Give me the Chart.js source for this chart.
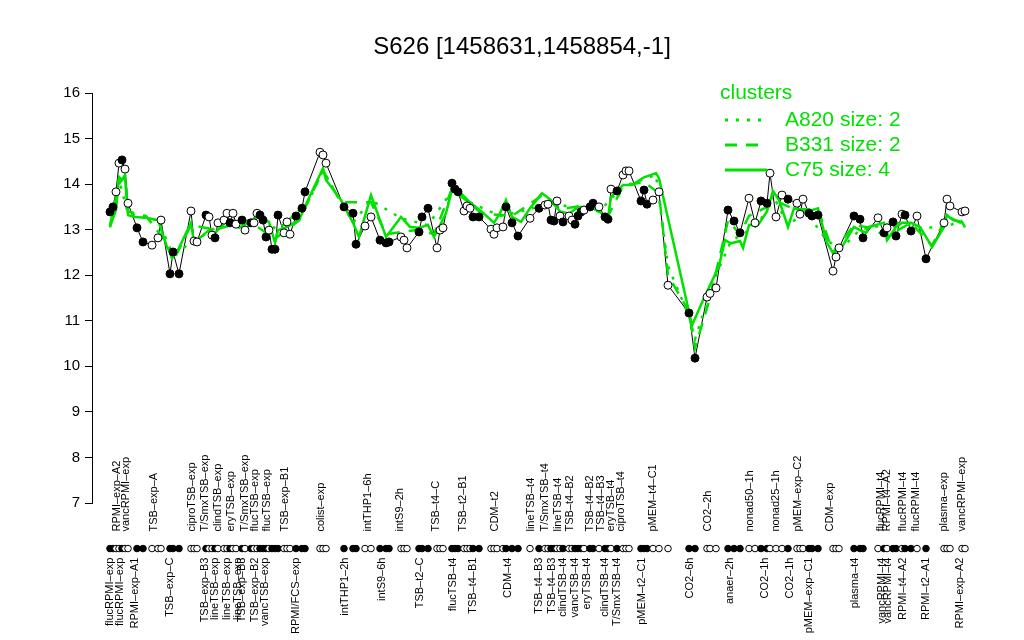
<!DOCTYPE html>
<html>
<head>
<meta charset="utf-8">
<title>S626</title>
<script src="https://cdn.jsdelivr.net/npm/chart.js@4.4.0/dist/chart.umd.min.js"></script>
<style>
  html, body { margin: 0; padding: 0; background: #fff; }
  canvas { display: block; }
</style>
</head>
<body>
<canvas id="chart" width="1024" height="640"></canvas>
<script>
// --- data ---
const TITLE = 'S626 [1458631,1458854,-1]';

// sample positions along the x axis, probe values, and marker fill (1 = filled)
const samplePos = [6,7,8,9,10,11,12,15,17,20,22,23,26,27,29,33,34,35,38,39,40,41,42,44,45,46,47,48,50,51,53,54,55,56,57,58,59,60,61,62,64,65,66,68,70,71,76,77,78,84,87,88,91,93,96,98,99,103,104,105,109,110,112,115,116,117,120,121,122,124,125,126,127,129,133,134,135,137,138,140,142,146,149,151,152,153,154,155,156,157,159,160,161,162,163,164,166,167,169,171,172,173,175,177,178,179,183,184,185,187,189,192,199,201,205,206,208,212,214,216,219,221,223,225,226,228,230,232,235,236,237,239,240,242,247,248,249,254,256,257,262,264,265,267,268,270,271,273,275,278,284,285,286,290,291];
const sampleVal = [13.39,13.5,13.83,14.46,14.53,14.33,13.58,13.04,12.73,12.66,12.82,13.21,12.03,12.51,12.03,13.41,12.75,12.73,13.32,13.28,12.88,12.82,13.15,13.21,13.36,13.15,13.36,13.12,13.21,12.99,13.15,13.15,13.36,13.32,13.21,12.84,12.99,12.57,12.57,13.32,12.93,13.17,12.9,13.3,13.47,13.83,14.7,14.64,14.46,13.5,13.36,12.68,13.08,13.28,12.77,12.71,12.73,12.84,12.77,12.6,12.95,13.28,13.47,12.6,12.99,13.04,14.02,13.89,13.83,13.41,13.52,13.47,13.28,13.28,13.01,12.9,13.04,13.06,13.5,13.15,12.86,13.25,13.47,13.54,13.56,13.21,13.19,13.63,13.3,13.17,13.3,13.21,13.12,13.3,13.39,13.43,13.5,13.58,13.5,13.28,13.23,13.89,13.85,14.2,14.29,14.29,13.63,13.87,13.56,13.65,13.83,11.78,11.17,10.18,11.52,11.6,11.72,13.43,13.19,12.93,13.69,13.15,13.63,13.58,14.24,13.28,13.76,13.67,13.58,13.34,13.67,13.36,13.3,13.32,12.09,12.4,12.6,13.3,13.23,12.82,13.26,12.93,13.04,13.17,12.86,13.34,13.32,12.97,13.3,12.36,13.15,13.67,13.52,13.39,13.41];
const sampleFilled = [1,1,0,0,1,0,0,1,1,0,0,0,1,1,1,0,0,0,1,0,0,1,0,0,0,1,0,0,1,0,1,0,0,1,1,1,0,1,1,1,0,0,0,1,1,1,0,0,0,1,1,1,0,0,1,1,1,0,0,0,1,1,1,0,0,0,1,1,1,0,0,0,1,1,0,0,0,0,1,1,1,0,1,0,0,1,1,0,0,1,0,0,1,1,1,0,1,1,0,1,1,0,1,0,0,0,1,1,1,0,0,0,1,1,0,0,0,1,1,1,0,0,1,1,0,0,0,1,0,0,0,1,1,1,0,0,0,1,1,1,0,1,0,1,1,0,1,1,0,1,0,0,0,0,0];

// cluster profiles (green)
const c75Pos = [6,8,9,10,11,12,14,18,22,25,27,29,33,34,39,41,43,45,49,52,55,59,61,62,65,69,72,77,78,83,87,89,93,98,103,106,109,112,114,118,120,123,126,130,134,136,138,140,143,146,150,153,156,159,162,166,169,172,173,177,180,184,188,189,200,204,209,211,213,216,217,219,222,225,227,229,232,234,238,242,245,247,250,254,256,258,259,264,265,268,270,273,276,280,284,285,287,290,291];
const c75Val = [13.06,13.43,14.16,14.09,14.16,13.32,13.28,13.26,13.21,12.62,12.4,12.6,13.15,12.71,12.99,12.93,13.06,13.21,13.04,13.15,13.28,13.17,12.71,12.99,13.06,13.21,13.65,14.35,14.09,13.65,13.15,12.84,13.76,12.84,13.28,13.06,13.04,13.1,12.84,13.36,13.87,13.8,13.6,13.39,13.15,13.36,13.65,13.28,13.17,13.47,13.8,13.65,13.4,13.35,13.5,13.5,13.4,13.25,13.72,13.98,13.98,14.15,14.24,14.13,10.9,11.5,12.2,12.77,12.7,12.75,12.6,13.1,13.1,13.4,13.85,13.65,13.06,13.47,13.39,13.47,12.71,12.49,12.62,13.06,12.99,12.93,13.06,13.15,12.77,13.06,13.15,13.15,13.06,12.62,13.06,13.32,13.21,13.17,13.05];
const b331Pos = [6,9,11,12,18,25,27,33,41,52,61,69,77,83,93,98,109,114,120,130,140,150,156,166,172,177,184,189,192,199,201,206,212,216,219,225,229,234,242,247,254,259,265,273,280,285,291];
const b331Val = [13.1,14.0,14.2,13.4,13.3,12.7,12.3,13.1,13.0,13.2,12.8,13.2,14.3,13.6,13.6,12.9,13.0,12.9,13.9,13.35,13.3,13.75,13.45,13.55,13.3,13.95,14.05,13.8,12.0,11.2,10.4,11.5,13.2,12.9,13.3,13.5,13.6,13.45,13.45,12.5,13.1,13.05,12.85,13.15,12.65,13.3,13.1];
const a820Pos = [6,9,12,22,27,34,45,55,62,72,77,87,93,103,112,120,126,136,146,153,162,169,177,188,192,199,201,208,213,222,227,232,238,245,250,256,264,270,276,284,290];
const a820Val = [13.05,14.1,13.35,13.2,12.45,12.75,13.2,13.25,13.0,13.6,14.3,13.15,13.65,13.25,13.1,13.85,13.6,13.3,13.45,13.6,13.45,13.4,13.95,14.2,12.2,11.1,10.6,12.0,12.75,13.1,13.75,13.1,13.4,12.75,12.6,13.0,13.1,13.15,13.05,13.05,13.2];

// sample labels: above the marker row and below it
const topLabelPos = [8.3,11.3,20.7,33.3,37.7,42,46.3,51,54.3,58.3,64.3,76.3,92,102.7,114.7,123.7,134.3,146.3,151,155.3,159.3,166,169.7,173,176.3,187,205.3,219.3,228,235.3,246,263,265,270.3,274.7,284,290];
const topLabelText = ['RPMI\u2013exp\u2013A2','vancRPMI\u2013exp','TSB\u2013exp\u2013A','ciproTSB\u2013exp','T/SmxTSB\u2013exp','clindTSB\u2013exp','eryTSB\u2013exp','T/SmxTSB\u2013exp','flucTSB\u2013exp','flucTSB\u2013exp','TSB\u2013exp\u2013B1','colist\u2013exp','intTHP1\u20136h','intS9\u20132h','TSB\u2013t4\u2013C','TSB\u2013t2\u2013B1','CDM\u2013t2','lineTSB\u2013t4','T/SmxTSB\u2013t4','lineTSB\u2013t4','TSB\u2013t4\u2013B2','TSB\u2013t4\u2013B2','TSB\u2013t4\u2013B3','eryTSB\u2013t4','ciproTSB\u2013t4','pMEM\u2013t4\u2013C1','CO2\u20132h','nonad50\u20131h','nonad25\u20131h','pMEM\u2013exp\u2013C2','CDM\u2013exp','flucRPMI\u2013t4','RPMI\u2013t4\u2013A2','flucRPMI\u2013t4','flucRPMI\u2013t4','plasma\u2013exp','vancRPMI\u2013exp'];
const bottomLabelPos = [6,9.3,14.3,26,37.7,41,45,48.7,50,54.3,57.7,68,84.3,96.7,109.3,120.3,127,138.7,149,153.3,157,161,165,171,175,183.3,199.3,212.7,224.3,232.7,239,254.3,263.3,265.3,270.3,278,289.3];
const bottomLabelText = ['flucRPMI\u2013exp','flucRPMI\u2013exp','RPMI\u2013exp\u2013A1','TSB\u2013exp\u2013C','TSB\u2013exp\u2013B3','lineTSB\u2013exp','lineTSB\u2013exp','lineTSB\u2013exp','TSB\u2013exp\u2013B3','TSB\u2013exp\u2013B2','vancTSB\u2013exp','RPMI/FCS\u2013exp','intTHP1\u20132h','intS9\u20136h','TSB\u2013t2\u2013C','flucTSB\u2013t4','TSB\u2013t4\u2013B1','CDM\u2013t4','TSB\u2013t4\u2013B3','TSB\u2013t4\u2013B3','clindTSB\u2013t4','vancTSB\u2013t4','eryTSB\u2013t4','clindTSB\u2013t4','T/SmxTSB\u2013t4','pMEM\u2013t2\u2013C1','CO2\u20136h','anaer\u20132h','CO2\u20131h','CO2\u20131h','pMEM\u2013exp\u2013C1','plasma\u2013t4','vancRPMI\u2013t4','vancRPMI\u2013t4','RPMI\u2013t4\u2013A2','RPMI\u2013t2\u2013A1','RPMI\u2013exp\u2013A2'];

const legendTitle = 'clusters';
const legendText = ['A820 size: 2', 'B331 size: 2', 'C75 size: 4'];

// --- styling ---
const FONT = '"Liberation Sans", Arial, Helvetica, sans-serif';
const GREEN = 'rgb(0,225,0)';
const MARK_ROW = 6;           // value level of the marker strip under the axis
const DOTTED = [3, 8];
const DASHED = [12, 9];

const toPoints = (xs, ys) => xs.map((x, i) => ({ x: x, y: ys[i] }));
const samplePts = toPoints(samplePos, sampleVal);
const fills = sampleFilled.map(f => f ? '#000' : '#fff');

const rText = {
    id: 'rText',
    afterDraw(chart) {
        const ctx = chart.ctx;
        const xs = chart.scales.x;
        const ys = chart.scales.y;
        const markY = ys.getPixelForValue(MARK_ROW);

        ctx.save();
        // marker strip: one circle per sample, below the axis
        ctx.lineWidth = 1;
        ctx.strokeStyle = '#000';
        samplePos.forEach((p, i) => {
            ctx.beginPath();
            ctx.arc(xs.getPixelForValue(p), markY, 3.3, 0, Math.PI * 2);
            ctx.fillStyle = fills[i];
            ctx.fill();
            ctx.stroke();
        });

        ctx.fillStyle = '#000';
        ctx.font = '24px ' + FONT;
        ctx.textAlign = 'center';
        ctx.textBaseline = 'middle';
        ctx.fillText(TITLE, 522, 47);

        ctx.font = '11px ' + FONT;
        ctx.textBaseline = 'middle';
        topLabelPos.forEach((p, i) => {
            ctx.save();
            ctx.translate(xs.getPixelForValue(p), markY - 17);
            ctx.rotate(-Math.PI / 2);
            ctx.textAlign = 'left';
            ctx.fillText(topLabelText[i], 0, 0);
            ctx.restore();
        });
        bottomLabelPos.forEach((p, i) => {
            ctx.save();
            ctx.translate(xs.getPixelForValue(p), markY + 9);
            ctx.rotate(-Math.PI / 2);
            ctx.textAlign = 'right';
            ctx.fillText(bottomLabelText[i], 0, 0);
            ctx.restore();
        });

        // legend
        ctx.fillStyle = GREEN;
        ctx.strokeStyle = GREEN;
        ctx.font = '21px ' + FONT;
        ctx.textAlign = 'left';
        ctx.fillText(legendTitle, 720, 93);
        const dashes = [DOTTED, DASHED, []];
        legendText.forEach((t, i) => {
            const y = 120 + i * 25;
            ctx.lineWidth = 3;
            ctx.setLineDash(dashes[i]);
            ctx.beginPath();
            ctx.moveTo(725, y);
            ctx.lineTo(767, y);
            ctx.stroke();
            ctx.fillText(t, 785, y);
        });
        ctx.restore();
    }
};

new Chart(document.getElementById('chart'), {
    type: 'scatter',
    data: {
        datasets: [
            {
                data: samplePts, showLine: true, borderColor: '#000', borderWidth: 1,
                pointRadius: 0, order: 4
            },
            {
                data: toPoints(a820Pos, a820Val), showLine: true, borderColor: GREEN, borderWidth: 2.5,
                borderDash: DOTTED, pointRadius: 0, order: 3
            },
            {
                data: toPoints(b331Pos, b331Val), showLine: true, borderColor: GREEN, borderWidth: 2.5,
                borderDash: DASHED, pointRadius: 0, order: 3
            },
            {
                data: toPoints(c75Pos, c75Val), showLine: true, borderColor: GREEN, borderWidth: 2.5,
                pointRadius: 0, order: 3
            },
            {
                data: samplePts, showLine: false, pointRadius: 4, pointBorderWidth: 1,
                pointBorderColor: '#000', pointBackgroundColor: fills, order: 1
            }
        ]
    },
    options: {
        responsive: false,
        animation: false,
        devicePixelRatio: 1,
        layout: { padding: { left: 52, right: 47, top: 93, bottom: 137 } },
        plugins: { legend: { display: false }, tooltip: { enabled: false }, title: { display: false } },
        scales: {
            x: { type: 'linear', min: 0, max: 295, display: false },
            y: {
                min: 7, max: 16,
                afterFit(scale) { scale.width = 40; },
                ticks: { stepSize: 1, color: '#000', padding: 5, font: { size: 15, family: FONT } },
                grid: { drawOnChartArea: false, drawTicks: true, tickLength: 7, color: '#000' },
                border: { display: true, color: '#000', width: 1 }
            }
        }
    },
    plugins: [rText]
});
</script>
</body>
</html>
